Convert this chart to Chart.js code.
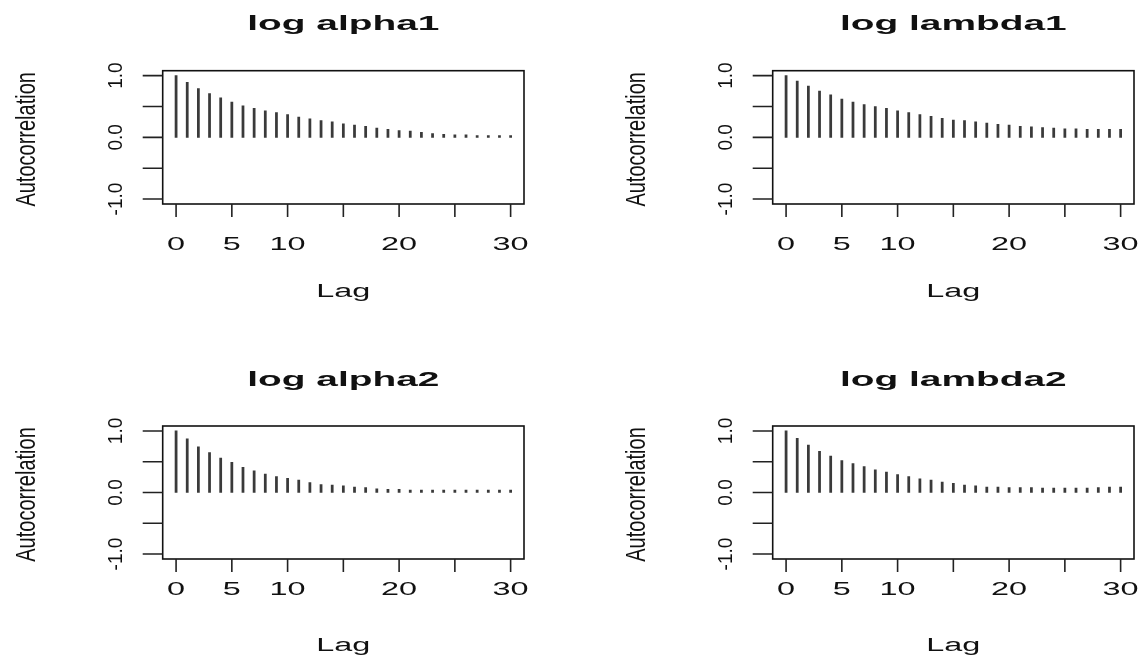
<!DOCTYPE html>
<html><head><meta charset="utf-8">
<script src="https://cdn.jsdelivr.net/npm/chart.js@4.4.1/dist/chart.umd.min.js"></script>
<style>
html,body{margin:0;padding:0;background:#fff;width:1144px;height:660px;overflow:hidden}
canvas{position:absolute}
</style></head><body>
<canvas id="c0" width="534" height="330" style="left:0px;top:0px"></canvas>
<canvas id="c1" width="534" height="330" style="left:610px;top:0px"></canvas>
<canvas id="c2" width="534" height="330" style="left:0px;top:330px"></canvas>
<canvas id="c3" width="534" height="330" style="left:610px;top:330px"></canvas>
<script>
// ---- data ----
const lags = [0,1,2,3,4,5,6,7,8,9,10,11,12,13,14,15,16,17,18,19,20,21,22,23,24,25,26,27,28,29,30];
const logAlpha1  = [1.00,0.89,0.79,0.71,0.64,0.57,0.51,0.47,0.43,0.40,0.37,0.33,0.30,0.27,0.25,0.22,0.20,0.18,0.15,0.13,0.11,0.10,0.08,0.06,0.05,0.04,0.04,0.03,0.03,0.03,0.03];
const logLambda1 = [1.00,0.91,0.83,0.75,0.69,0.62,0.57,0.53,0.50,0.47,0.43,0.40,0.37,0.34,0.31,0.28,0.27,0.25,0.23,0.21,0.20,0.18,0.17,0.16,0.15,0.14,0.14,0.13,0.13,0.13,0.13];
const logAlpha2  = [1.00,0.87,0.74,0.65,0.56,0.49,0.41,0.35,0.30,0.26,0.23,0.20,0.16,0.13,0.12,0.11,0.09,0.08,0.06,0.05,0.05,0.04,0.04,0.04,0.04,0.04,0.04,0.04,0.04,0.04,0.04];
const logLambda2 = [1.00,0.88,0.77,0.67,0.59,0.52,0.47,0.42,0.37,0.33,0.29,0.26,0.22,0.20,0.17,0.15,0.12,0.11,0.09,0.09,0.08,0.08,0.08,0.07,0.07,0.07,0.07,0.07,0.08,0.09,0.09];
const titles = ['log alpha1','log lambda1','log alpha2','log lambda2'];
const yTickValues = [-1,-0.5,0,0.5,1];
const yTickLabels = ['-1.0','','0.0','','1.0'];
const xTickValues = [0,5,10,15,20,25,30];
const xTickLabels = ['0','5','10','','20','','30'];
const xTitle = 'Lag';
const yTitle = 'Autocorrelation';

const seriesList = [logAlpha1, logLambda1, logAlpha2, logLambda2];
const FONT = '"Liberation Sans", Arial, Helvetica, sans-serif';
const rows = [
  {padTop:70.7, padBottom:126, titleBase:29.5, digitBase:250, lagBase:297, ylabShift:2},
  {padTop:96,   padBottom:101, titleBase:56,   digitBase:265, lagBase:321, ylabShift:2}
];

function hText(ctx, txt, x, y, font, sx){
  ctx.save(); ctx.translate(x,y); ctx.scale(sx,1);
  ctx.font = font; ctx.textAlign='center'; ctx.textBaseline='alphabetic';
  ctx.fillText(txt,0,0); ctx.restore();
}
function vText(ctx, txt, x, y, font, cross){
  ctx.save(); ctx.translate(x,y); ctx.rotate(-Math.PI/2); ctx.scale(1,cross);
  ctx.font = font; ctx.textAlign='center'; ctx.textBaseline='alphabetic';
  ctx.fillText(txt,0,0); ctx.restore();
}

const framePlugin = {
  id:'frame',
  afterDatasetsDraw(chart, args, opts){
    const ctx = chart.ctx, a = chart.chartArea, x = chart.scales.x, y = chart.scales.y;
    const r = opts.row;
    ctx.save();
    ctx.strokeStyle = '#111';
    ctx.lineWidth = 1.6;
    ctx.strokeRect(a.left, a.top, a.right-a.left, a.bottom-a.top);
    ctx.lineWidth = 1.6;
    ctx.strokeStyle = '#222';
    ctx.beginPath();
    yTickValues.forEach(v=>{ const py=y.getPixelForValue(v); ctx.moveTo(a.left-20,py); ctx.lineTo(a.left,py); });
    xTickValues.forEach(v=>{ const px=x.getPixelForValue(v); ctx.moveTo(px,a.bottom); ctx.lineTo(px,a.bottom+13); });
    ctx.stroke();
    ctx.fillStyle = '#111';
    const cx = (a.left+a.right)/2;
    hText(ctx, opts.title, cx, r.titleBase, 'bold 21px '+FONT, 1.85);
    xTickValues.forEach((v,i)=>{ if(xTickLabels[i]) hText(ctx, xTickLabels[i], x.getPixelForValue(v), r.digitBase, '18px '+FONT, 1.8); });
    hText(ctx, xTitle, cx, r.lagBase, '18px '+FONT, 1.8);
    yTickValues.forEach((v,i)=>{ if(yTickLabels[i]) vText(ctx, yTickLabels[i], 122, y.getPixelForValue(v), '19px '+FONT, 1.05); });
    vText(ctx, yTitle, 34.5, y.getPixelForValue(0)+r.ylabShift, '20px '+FONT, 1.4);
    ctx.restore();
  }
};

seriesList.forEach((vals, k)=>{
  const row = rows[Math.floor(k/2)];
  new Chart(document.getElementById('c'+k), {
    type:'bar',
    data:{ datasets:[{ data: lags.map((l,i)=>({x:l, y:vals[i]})), backgroundColor:'#3a3a3a', barThickness:2.1, borderWidth:0 }] },
    options:{
      responsive:false, animation:false, devicePixelRatio:1,
      layout:{ padding:{ left:162.7, right:10, top:row.padTop, bottom:row.padBottom } },
      scales:{
        x:{ type:'linear', min:-1.2, max:31.2, display:false, offset:false },
        y:{ type:'linear', min:-1.08, max:1.08, display:false }
      },
      plugins:{ legend:{display:false}, tooltip:{enabled:false}, frame:{ title: titles[k], row: row } }
    },
    plugins:[framePlugin]
  });
});
</script>
</body></html>
